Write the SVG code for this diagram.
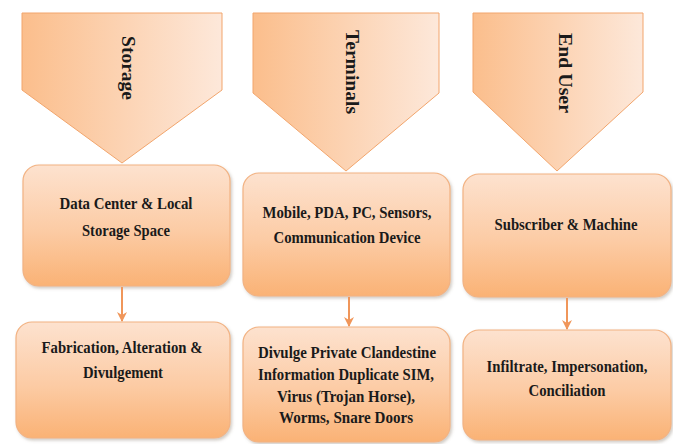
<svg xmlns="http://www.w3.org/2000/svg" width="673" height="444" viewBox="0 0 673 444">
  <defs>
    <linearGradient id="chevFill" x1="0" y1="0" x2="1" y2="0">
      <stop offset="0" stop-color="#FBBE8C"/>
      <stop offset="1" stop-color="#FDE8DA"/>
    </linearGradient>
    <linearGradient id="boxFill" x1="0" y1="0" x2="0" y2="1">
      <stop offset="0" stop-color="#FDE2CF"/>
      <stop offset="0.55" stop-color="#FCCBA4"/>
      <stop offset="1" stop-color="#FAB275"/>
    </linearGradient>
    <filter id="shadow" x="-10%" y="-10%" width="125%" height="130%">
      <feDropShadow dx="1.5" dy="2" stdDeviation="1.5" flood-color="#7a6a5a" flood-opacity="0.35"/>
    </filter>
    <marker id="arrow" viewBox="0 0 10 10" refX="9" refY="5" markerWidth="5" markerHeight="5" orient="auto" markerUnits="strokeWidth">
      <path d="M0,0 L10,5 L0,10 L3,5 Z" fill="#F0965A"/>
    </marker>
    <style>
      .chev { fill: url(#chevFill); stroke: #F2A56C; stroke-width: 1; }
      .box { fill: url(#boxFill); stroke: #F2B282; stroke-width: 1.2; filter: url(#shadow); }
      .title { font-family: "Liberation Serif", "Times New Roman", serif; font-weight: bold; font-size: 18px; fill: #1a1a1a; text-anchor: middle; }
      .label { font-family: "Liberation Serif", "Times New Roman", serif; font-weight: bold; font-size: 17px; fill: #1a1a1a; text-anchor: middle; }
      .link { stroke: #F0965A; stroke-width: 2; fill: none; marker-end: url(#arrow); }
    </style>
  </defs>

  <rect width="673" height="444" fill="#ffffff"/>

  <!-- column headers -->
  <g id="storage">
    <path class="chev" d="M22,13 H222 V90 L122,163 L22,90 Z"/>
    <text class="title" transform="translate(128,68) rotate(90)" dy="0.33em" textLength="64" lengthAdjust="spacingAndGlyphs">Storage</text>
  </g>
  <g id="terminals">
    <path class="chev" d="M253,13 H439 V93 L346,171 L253,93 Z"/>
    <text class="title" transform="translate(352,72) rotate(90)" dy="0.33em" textLength="84" lengthAdjust="spacingAndGlyphs">Terminals</text>
  </g>
  <g id="end-user">
    <path class="chev" d="M473,13 H643 V92 L557,171 L473,92 Z"/>
    <text class="title" transform="translate(565,73) rotate(90)" dy="0.33em" textLength="80" lengthAdjust="spacingAndGlyphs">End User</text>
  </g>

  <!-- assets -->
  <g id="data-center">
    <rect class="box" x="23" y="165" width="207" height="121" rx="16"/>
    <text class="label" x="126" y="209" textLength="133" lengthAdjust="spacingAndGlyphs">Data Center &amp; Local</text>
    <text class="label" x="126" y="236" textLength="88" lengthAdjust="spacingAndGlyphs">Storage Space</text>
  </g>
  <g id="devices">
    <rect class="box" x="243" y="173" width="207" height="123" rx="16"/>
    <text class="label" x="347" y="218" textLength="169" lengthAdjust="spacingAndGlyphs">Mobile, PDA, PC, Sensors,</text>
    <text class="label" x="347" y="243" textLength="147" lengthAdjust="spacingAndGlyphs">Communication Device</text>
  </g>
  <g id="subscriber">
    <rect class="box" x="463" y="174" width="208" height="123" rx="16"/>
    <text class="label" x="566" y="230" textLength="143" lengthAdjust="spacingAndGlyphs">Subscriber &amp; Machine</text>
  </g>

  <!-- threats -->
  <g id="fabrication">
    <rect class="box" x="16" y="322" width="214" height="116" rx="16"/>
    <text class="label" x="122" y="353" textLength="161" lengthAdjust="spacingAndGlyphs">Fabrication, Alteration &amp;</text>
    <text class="label" x="123" y="378" textLength="80" lengthAdjust="spacingAndGlyphs">Divulgement</text>
  </g>
  <g id="divulge">
    <rect class="box" x="243" y="327" width="207" height="115" rx="16"/>
    <text class="label" x="347" y="358" textLength="178" lengthAdjust="spacingAndGlyphs">Divulge Private Clandestine</text>
    <text class="label" x="346" y="380" textLength="176" lengthAdjust="spacingAndGlyphs">Information Duplicate SIM,</text>
    <text class="label" x="346" y="402" textLength="138" lengthAdjust="spacingAndGlyphs">Virus (Trojan Horse),</text>
    <text class="label" x="346" y="423" textLength="134" lengthAdjust="spacingAndGlyphs">Worms, Snare Doors</text>
  </g>
  <g id="infiltrate">
    <rect class="box" x="463" y="330" width="208" height="110" rx="16"/>
    <text class="label" x="567" y="372" textLength="161" lengthAdjust="spacingAndGlyphs">Infiltrate, Impersonation,</text>
    <text class="label" x="567" y="396" textLength="77" lengthAdjust="spacingAndGlyphs">Conciliation</text>
  </g>

  <!-- connectors -->
  <g id="connectors">
    <line class="link" x1="122" y1="287" x2="122" y2="321"/>
    <line class="link" x1="349" y1="297" x2="349" y2="326"/>
    <line class="link" x1="567" y1="298" x2="567" y2="329"/>
  </g>
</svg>
